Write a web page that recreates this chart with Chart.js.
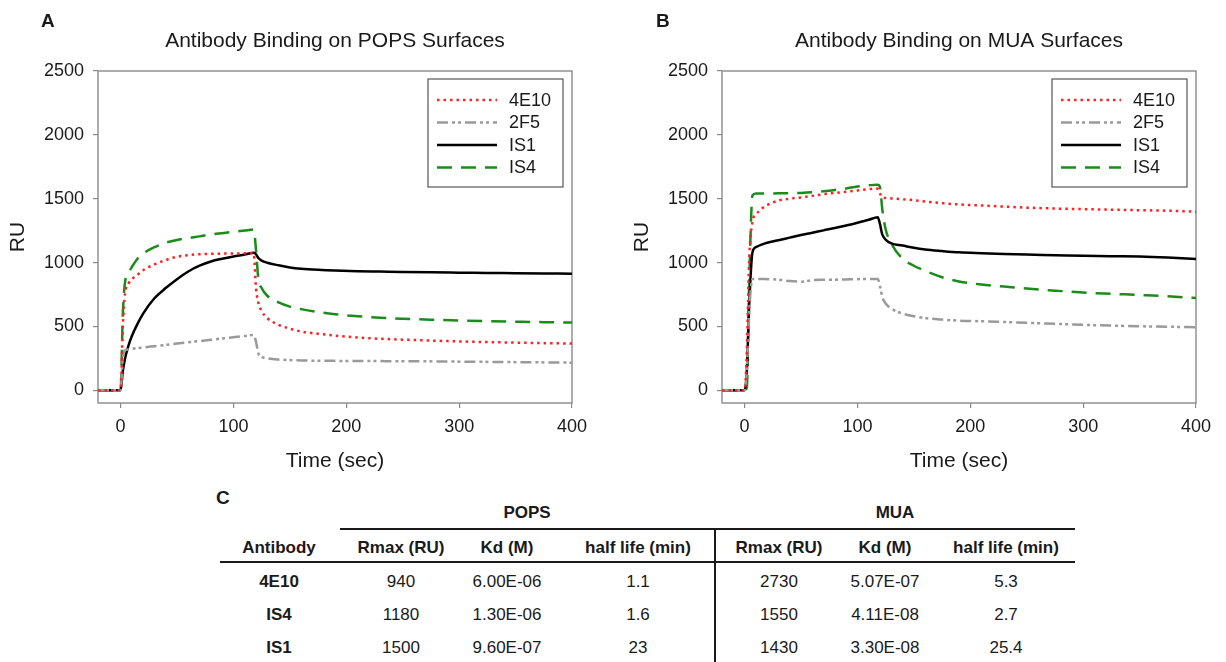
<!DOCTYPE html>
<html><head><meta charset="utf-8">
<script src="https://cdn.jsdelivr.net/npm/chart.js@4.4.1/dist/chart.umd.min.js"></script>
<style>
html,body{margin:0;padding:0;background:#fff;}
body{width:1226px;height:662px;position:relative;overflow:hidden;font-family:"Liberation Sans",Arial,sans-serif;color:#1a1a1a;}
.cv{position:absolute;top:0;height:480px;}
.letter{position:absolute;font-weight:bold;font-size:19px;line-height:19px;}
.t{position:absolute;transform:translate(-50%,-50%);line-height:1;white-space:nowrap;font-size:17px;}
.b{font-weight:bold;}
.rule{position:absolute;background:#1a1a1a;}
</style></head><body>
<div class="cv" style="left:0;width:613px"><canvas id="cA"></canvas></div>
<div class="cv" style="left:624px;width:602px"><canvas id="cB"></canvas></div>
<div class="letter" style="left:41px;top:11px">A</div>
<div class="letter" style="left:656px;top:11px">B</div>
<div class="letter" style="left:216px;top:488px">C</div>
<div id="tbl"></div>
<script>
// ---------- data ----------
const seriesLabels = ['4E10', '2F5', 'IS1', 'IS4'];
const timeSec = [-20,0,2,4,7,10,15,20,30,40,50,60,70,80,90,100,110,118,120,122,125,130,140,150,160,175,190,210,230,250,275,300,325,350,375,400];

const pops4E10 = [0,0,500,760,835,870,905,940,985,1020,1045,1058,1065,1068,1070,1071,1072,1072,800,690,620,565,512,482,460,442,428,413,403,396,389,382,377,373,369,366];
const pops2F5  = [0,0,250,315,320,324,330,335,345,355,366,376,385,395,405,415,425,432,380,290,262,250,240,236,233,231,230,229,228,227,226,224,222,220,218,216];
const popsIS1  = [0,0,150,250,350,425,520,600,720,800,870,930,975,1008,1030,1048,1063,1077,1065,1035,1015,998,978,962,952,943,937,932,929,926,923,921,919,917,915,913];
const popsIS4  = [0,0,600,850,920,965,1030,1070,1120,1155,1177,1192,1205,1220,1230,1240,1250,1258,1100,880,800,740,688,655,635,612,595,580,568,560,552,546,541,537,533,530];

const mua4E10 = [0,0,300,1000,1320,1375,1420,1450,1485,1500,1510,1522,1535,1545,1555,1565,1575,1578,1540,1510,1505,1502,1495,1488,1478,1465,1455,1447,1438,1430,1423,1418,1414,1410,1406,1398];
const mua2F5  = [0,0,150,600,870,872,872,870,866,855,850,862,865,866,868,870,872,872,815,730,680,640,600,580,565,553,545,540,534,528,520,512,506,501,497,494];
const muaIS1  = [0,0,150,650,1080,1120,1140,1155,1175,1195,1215,1233,1252,1270,1290,1312,1335,1354,1300,1220,1180,1150,1133,1115,1102,1090,1080,1073,1067,1062,1058,1053,1050,1048,1040,1028];
const muaIS4  = [0,0,20,800,1525,1540,1540,1540,1542,1543,1545,1550,1558,1568,1580,1595,1605,1610,1590,1420,1260,1150,1030,975,935,885,852,828,812,796,780,765,755,746,736,722];

const xTickValues = [0, 100, 200, 300, 400];
const yTickValues = [0, 500, 1000, 1500, 2000, 2500];

const tableAntibodies = ['4E10', 'IS4', 'IS1'];
const popsRmax = ['940', '1180', '1500'];
const popsKd = ['6.00E-06', '1.30E-06', '9.60E-07'];
const popsHalfLife = ['1.1', '1.6', '23'];
const muaRmax = ['2730', '1550', '1430'];
const muaKd = ['5.07E-07', '4.11E-08', '3.30E-08'];
const muaHalfLife = ['5.3', '2.7', '25.4'];
const tableHeaders = ['Antibody', 'Rmax (RU)', 'Kd (M)', 'half life (min)', 'Rmax (RU)', 'Kd (M)', 'half life (min)'];
const groupHeaders = ['POPS', 'MUA'];

// ---------- styles ----------
const FONT = '"Liberation Sans", Arial, sans-serif';
const TXT = '#1a1a1a';
const styles = [
  {color: '#ff2020', dash: [2.5, 4]},
  {color: '#9a9a9a', dash: [11, 4, 3, 3, 3, 4]},
  {color: '#000000', dash: []},
  {color: '#1a8c1a', dash: [15, 9]}
];

function toPoints(vals) { return timeSec.map((t, i) => ({x: t, y: vals[i]})); }

function makeDatasets(list) {
  return list.map((vals, i) => ({
    label: seriesLabels[i],
    data: toPoints(vals),
    borderColor: styles[i].color,
    backgroundColor: styles[i].color,
    borderDash: styles[i].dash,
    borderWidth: 2.5,
    pointRadius: 0,
    fill: false,
    cubicInterpolationMode: 'monotone'
  }));
}

const framePlugin = {
  id: 'frame',
  beforeDatasetsDraw(chart) {
    const {ctx, chartArea: a} = chart;
    ctx.save();
    ctx.strokeStyle = '#8a8a8a';
    ctx.lineWidth = 1.4;
    ctx.strokeRect(a.left, a.top, a.right - a.left, a.bottom - a.top);
    ctx.restore();
  }
};

const titlePlugin = {
  id: 'ptitle',
  afterDraw(chart, args, opts) {
    const {ctx, chartArea: a} = chart;
    ctx.save();
    ctx.font = '21px ' + FONT;
    ctx.fillStyle = TXT;
    ctx.textAlign = 'center';
    ctx.textBaseline = 'alphabetic';
    ctx.fillText(opts.text, (a.left + a.right) / 2, 47);
    ctx.restore();
  }
};

const boxLegendPlugin = {
  id: 'boxLegend',
  afterDatasetsDraw(chart) {
    const {ctx, chartArea: a} = chart;
    const w = 135, h = 108;
    const left = a.right - 9 - w, top = a.top + 8;
    ctx.save();
    ctx.fillStyle = '#fff';
    ctx.fillRect(left, top, w, h);
    ctx.strokeStyle = '#555';
    ctx.lineWidth = 1.2;
    ctx.strokeRect(left, top, w, h);
    chart.data.datasets.forEach((ds, i) => {
      const y = top + 21 + i * 22.5;
      ctx.beginPath();
      ctx.strokeStyle = ds.borderColor;
      ctx.lineWidth = ds.borderWidth;
      ctx.setLineDash(ds.borderDash);
      ctx.moveTo(left + 9, y);
      ctx.lineTo(left + 69, y);
      ctx.stroke();
      ctx.setLineDash([]);
      ctx.fillStyle = TXT;
      ctx.font = '18px ' + FONT;
      ctx.textAlign = 'left';
      ctx.textBaseline = 'middle';
      ctx.fillText(ds.label, left + 81, y + 1);
    });
    ctx.restore();
  }
};

function makeChart(id, title, list, padRight) {
  return new Chart(document.getElementById(id), {
    type: 'line',
    data: {datasets: makeDatasets(list)},
    plugins: [framePlugin, titlePlugin, boxLegendPlugin],
    options: {
      responsive: true,
      maintainAspectRatio: false,
      animation: false,
      layout: {padding: {top: 71, right: padRight, left: 0, bottom: 0}},
      plugins: {
        legend: {display: false},
        tooltip: {enabled: false},
        title: {display: false},
        ptitle: {text: title}
      },
      scales: {
        x: {
          type: 'linear', min: -20, max: 400,
          afterFit(s) { s.height = 77; },
          afterBuildTicks(s) { s.ticks = xTickValues.map(v => ({value: v})); },
          ticks: {color: TXT, font: {family: FONT, size: 18}, padding: 8, maxRotation: 0, autoSkip: false,
                  callback: v => String(v)},
          grid: {drawOnChartArea: false, drawTicks: true, tickLength: 5, color: '#8a8a8a', lineWidth: 1.2},
          border: {display: false},
          title: {display: true, text: 'Time (sec)', color: TXT, font: {family: FONT, size: 21}, padding: {top: 0, bottom: 6}}
        },
        y: {
          type: 'linear', min: -100, max: 2500,
          afterFit(s) { s.width = 98; },
          afterBuildTicks(s) { s.ticks = yTickValues.map(v => ({value: v})); },
          ticks: {color: TXT, font: {family: FONT, size: 18}, padding: 9, autoSkip: false,
                  callback: v => String(v)},
          grid: {drawOnChartArea: false, drawTicks: true, tickLength: 5, color: '#8a8a8a', lineWidth: 1.2},
          border: {display: false},
          title: {display: true, text: 'RU', color: TXT, font: {family: FONT, size: 21}, padding: {top: 6, bottom: 0}}
        }
      }
    }
  });
}

makeChart('cA', 'Antibody Binding on POPS Surfaces', [pops4E10, pops2F5, popsIS1, popsIS4], 41);
makeChart('cB', 'Antibody Binding on MUA Surfaces', [mua4E10, mua2F5, muaIS1, muaIS4], 30);

// ---------- table ----------
const colX = [279, 401, 507, 638, 779, 885, 1006];
const groupX = [527, 895];
const rowY = [581, 614, 647];
const tbl = document.getElementById('tbl');
function addText(txt, x, y, bold) {
  const d = document.createElement('div');
  d.className = 't' + (bold ? ' b' : '');
  d.style.left = x + 'px';
  d.style.top = y + 'px';
  d.textContent = txt;
  tbl.appendChild(d);
}
function addRule(l, t, w, h) {
  const d = document.createElement('div');
  d.className = 'rule';
  Object.assign(d.style, {left: l + 'px', top: t + 'px', width: w + 'px', height: h + 'px'});
  tbl.appendChild(d);
}
groupHeaders.forEach((g, i) => addText(g, groupX[i], 512, true));
tableHeaders.forEach((h, i) => addText(h, colX[i], 547, true));
const cols = [tableAntibodies, popsRmax, popsKd, popsHalfLife, muaRmax, muaKd, muaHalfLife];
tableAntibodies.forEach((_, r) => {
  cols.forEach((c, ci) => addText(c[r], colX[ci], rowY[r], ci === 0));
});
addRule(340, 528, 735, 2);
addRule(220, 561, 855, 2);
addRule(714, 528, 2, 134);
</script>
</body></html>
